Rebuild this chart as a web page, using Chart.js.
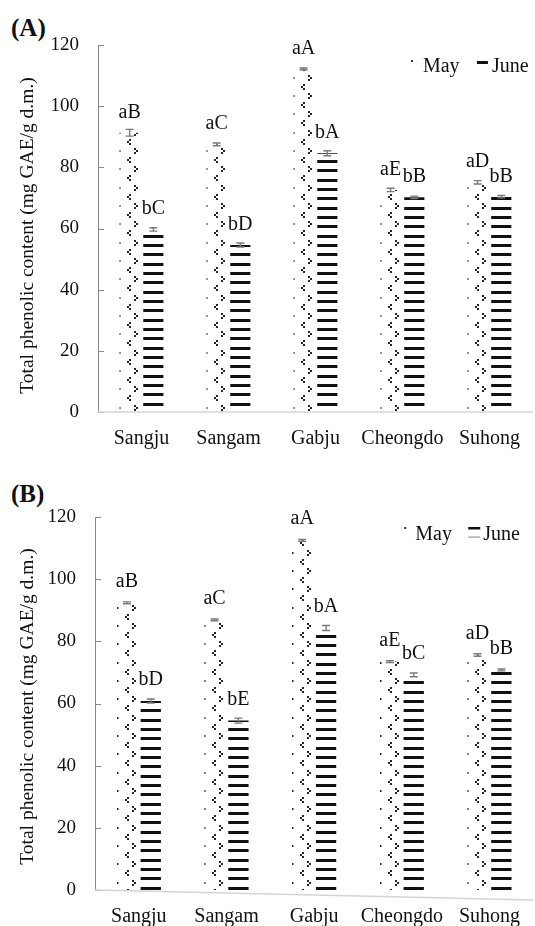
<!DOCTYPE html>
<html>
<head>
<meta charset="utf-8">
<script src="https://cdn.jsdelivr.net/npm/chart.js@4.4.1/dist/chart.umd.min.js"></script>
<style>
  body { margin: 0; background: #fff; width: 535px; height: 926px; position: relative; overflow: hidden; }
  .tag { position: absolute; left: 11px; font: bold 25px 'Liberation Serif', 'Times New Roman', serif; line-height: 1; color: #111; }
  canvas { position: absolute; left: 0; }
</style>
</head>
<body>
<div class="tag" style="top:15px">(A)</div>
<div class="tag" style="top:481px">(B)</div>
<canvas id="chartA" width="535" height="465" style="top:0"></canvas>
<canvas id="chartB" width="535" height="461" style="top:465px"></canvas>
<script>
// Total phenolic content, two panels (A) and (B)
const sites = ['Sangju', 'Sangam', 'Gabju', 'Cheongdo', 'Suhong'];
const seriesNames = ['May', 'June'];
const yTicks = [0, 20, 40, 60, 80, 100, 120];
const yTitle = 'Total phenolic content (mg GAE/g d.m.)';

// panel A
const mayA = [91.3, 87.5, 112.2, 72.6, 75.1];
const juneA = [59.7, 54.6, 84.6, 70.2, 70.4];
const mayErrA = [1.1, 0.45, 0.3, 0.55, 0.55];
const juneErrA = [0.55, 0.65, 0.8, 0.4, 0.4];
const mayLettersA = ['aB', 'aC', 'aA', 'aE', 'aD'];
const juneLettersA = ['bC', 'bD', 'bA', 'bB', 'bB'];

// panel B
const mayB = [92.4, 86.9, 112.5, 73.5, 75.6];
const juneB = [60.8, 54.5, 84.3, 69.2, 70.8];
const mayErrB = [0.3, 0.3, 0.3, 0.3, 0.4];
const juneErrB = [0.65, 0.8, 0.8, 0.6, 0.3];
const mayLettersB = ['aB', 'aC', 'aA', 'aE', 'aD'];
const juneLettersB = ['bD', 'bE', 'bA', 'bC', 'bB'];

const FONT = "'Liberation Serif', 'Times New Roman', serif";

// dotted zigzag fill for May bars
const mayTile = document.createElement('canvas');
mayTile.width = 24;
mayTile.height = 55;
(function () {
    const g = mayTile.getContext('2d');
    g.fillStyle = '#262626';
    for (let k = 0; k < 3; k++) {
        const r = Math.round(k * 55 / 3) + 3;
        g.fillRect(0, r, 1.5, 2);
        // ">"
        g.fillRect(15, r - 2, 2, 2);
        g.fillRect(17, r, 2, 2);
        g.fillRect(15, r + 2, 2, 2);
        // "<"
        const c = r + 9;
        g.fillRect(10, c - 2, 2, 2);
        g.fillRect(8, c, 2, 2);
        g.fillRect(10, c + 2, 2, 2);
    }
})();

// horizontal stripes for June bars
const juneTile = document.createElement('canvas');
juneTile.width = 8;
juneTile.height = 28;
(function () {
    const g = juneTile.getContext('2d');
    g.fillStyle = '#111';
    [0, 9, 19].forEach(r => g.fillRect(0, r, 8, 3));
})();

function barFill(ctx, kind, cfg) {
    const chart = ctx.chart;
    if (ctx.type !== 'data' || !chart.chartArea) return kind === 'may' ? '#999' : '#111';
    const cx = chart.scales.x.getPixelForValue(ctx.dataIndex);
    const pat = chart.ctx.createPattern(kind === 'may' ? mayTile : juneTile, 'repeat');
    if (kind === 'may') {
        pat.setTransform(new DOMMatrix().translate(Math.round(cx - 22), chart.chartArea.bottom + cfg.mayShift));
    } else {
        pat.setTransform(new DOMMatrix().translate(0, chart.chartArea.bottom + cfg.stripeShift));
    }
    return pat;
}

// error bars, letters, inward ticks, x axis line, y title and legend
function makeMarks(cfg) {
    return {
        id: 'marks',
        afterDatasetsDraw(chart) {
            const ctx = chart.ctx;
            const y = chart.scales.y;
            const area = chart.chartArea;
            ctx.save();

            ctx.strokeStyle = '#8a8a8a';
            ctx.lineWidth = 1;
            yTicks.forEach(v => {
                const py = Math.round(y.getPixelForValue(v)) + 0.5;
                ctx.beginPath();
                ctx.moveTo(area.left, py);
                ctx.lineTo(area.left + 6, py);
                ctx.stroke();
            });

            ctx.strokeStyle = '#d4d4d4';
            ctx.lineWidth = 1.5;
            ctx.beginPath();
            ctx.moveTo(area.left, area.bottom);
            ctx.lineTo(area.right, area.bottom + cfg.slant);
            ctx.stroke();

            const errs = [cfg.mayErr, cfg.juneErr];
            const letters = [cfg.mayLetters, cfg.juneLetters];
            chart.data.datasets.forEach((ds, di) => {
                chart.getDatasetMeta(di).data.forEach((bar, i) => {
                    const v = ds.data[i];
                    const hi = y.getPixelForValue(v + errs[di][i]);
                    const lo = y.getPixelForValue(v - errs[di][i]);
                    ctx.strokeStyle = '#7a7a7a';
                    ctx.lineWidth = 1.4;
                    ctx.beginPath();
                    ctx.moveTo(bar.x, hi); ctx.lineTo(bar.x, lo);
                    ctx.moveTo(bar.x - 4, hi); ctx.lineTo(bar.x + 4, hi);
                    ctx.moveTo(bar.x - 4, lo); ctx.lineTo(bar.x + 4, lo);
                    ctx.stroke();

                    ctx.fillStyle = '#111';
                    ctx.font = '20px ' + FONT;
                    ctx.textAlign = 'center';
                    ctx.textBaseline = 'alphabetic';
                    ctx.fillText(letters[di][i], bar.x, bar.y - cfg.letterGap);
                });
            });

            // y axis title
            ctx.save();
            ctx.translate(28, (area.top + area.bottom) / 2 + cfg.titleShift);
            ctx.rotate(-Math.PI / 2);
            ctx.font = '19.5px ' + FONT;
            ctx.fillStyle = '#111';
            ctx.textAlign = 'center';
            ctx.textBaseline = 'middle';
            ctx.fillText(yTitle, 0, 0);
            ctx.restore();

            // legend
            const lg = cfg.legend;
            const base = area.top + lg.base;
            ctx.font = '20px ' + FONT;
            ctx.textAlign = 'left';
            ctx.fillStyle = '#111';
            ctx.fillText(chart.data.datasets[0].label, area.right + lg.mayText, base);
            ctx.fillText(chart.data.datasets[1].label, area.right + lg.juneText, base);
            ctx.fillStyle = '#333';
            ctx.fillRect(area.right + lg.mayDot, base - lg.dotUp, 2, 2);
            if (lg.double) {
                ctx.fillStyle = '#111';
                ctx.fillRect(area.right + lg.juneIcon, base - 13, 12, 2.5);
                ctx.fillStyle = '#9a9a9a';
                ctx.fillRect(area.right + lg.juneIcon, base - 3.5, 12, 1.2);
            } else {
                ctx.fillStyle = '#111';
                ctx.fillRect(area.right + lg.juneIcon, base - 11, 11, 3);
            }
            ctx.restore();
        }
    };
}

function buildChart(id, cfg) {
    return new Chart(document.getElementById(id), {
        type: 'bar',
        data: {
            labels: sites,
            datasets: [
                { label: seriesNames[0], data: cfg.may, backgroundColor: c => barFill(c, 'may', cfg), borderWidth: 0 },
                { label: seriesNames[1], data: cfg.june, backgroundColor: c => barFill(c, 'june', cfg), borderWidth: 0 }
            ]
        },
        options: {
            responsive: false,
            animation: false,
            events: [],
            layout: { padding: { top: cfg.top, left: 0, right: 0, bottom: 0 } },
            datasets: { bar: { categoryPercentage: 0.545, barPercentage: 0.85 } },
            plugins: { legend: { display: false }, tooltip: { enabled: false } },
            scales: {
                x: {
                    grid: { display: false, drawTicks: false },
                    border: { display: false },
                    ticks: {
                        color: '#111', padding: 15, maxRotation: 0, minRotation: 0, autoSkip: false,
                        font: { family: FONT, size: 20 }
                    },
                    afterFit: s => { s.height = cfg.height - cfg.bottom; }
                },
                y: {
                    min: 0,
                    max: 120,
                    grid: { display: false, drawTicks: false },
                    border: { display: true, color: '#8a8a8a', width: 1 },
                    ticks: { color: '#111', padding: 19, font: { family: FONT, size: 19 } },
                    afterBuildTicks: s => { s.ticks = yTicks.map(v => ({ value: v })); },
                    afterFit: s => { s.width = cfg.axisX; }
                }
            }
        },
        plugins: [makeMarks(cfg)]
    });
}

buildChart('chartA', {
    may: mayA, june: juneA, mayErr: mayErrA, juneErr: juneErrA,
    mayLetters: mayLettersA, juneLetters: juneLettersA,
    height: 465, top: 45, bottom: 412, axisX: 98, slant: 0, titleShift: 7,
    letterGap: 15, stripeShift: 0, mayShift: 10,
    legend: { base: 27, mayDot: -122, dotUp: 12, mayText: -110, juneIcon: -56, juneText: -41, double: false }
});

buildChart('chartB', {
    may: mayB, june: juneB, mayErr: mayErrB, juneErr: juneErrB,
    mayLetters: mayLettersB, juneLetters: juneLettersB,
    height: 461, top: 52, bottom: 425, axisX: 95, slant: 10, titleShift: 3,
    letterGap: 16, stripeShift: 6, mayShift: 7,
    legend: { base: 23, mayDot: -129, dotUp: 13, mayText: -118, juneIcon: -65, juneText: -50, double: true }
});
</script>
</body>
</html>
